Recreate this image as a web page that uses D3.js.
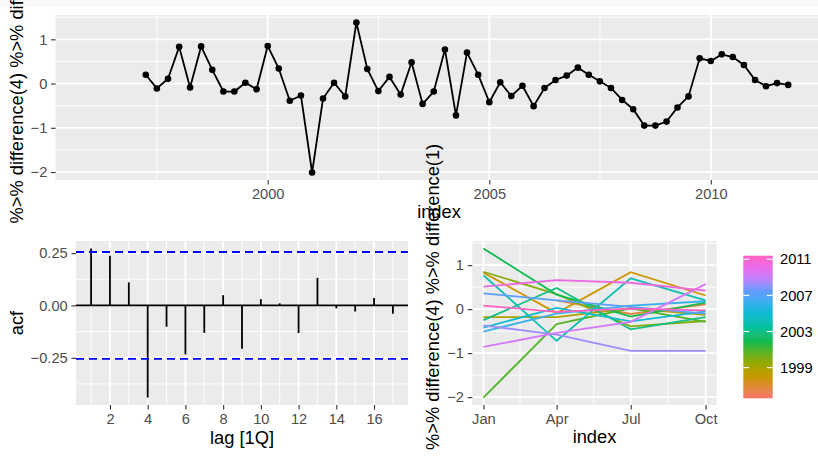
<!DOCTYPE html>
<html>
<head>
<meta charset="utf-8">
<script src="https://cdn.jsdelivr.net/npm/d3@7"></script>
<style>
  body { margin: 0; background: #fff; }
  text { font-family: "Liberation Sans", Arial, sans-serif; }
</style>
</head>
<body>
<svg width="818" height="456"></svg>
<script>
// ---------------- data ----------------
// quarterly series from 1996 Q1, first five quarters are NA after differencing
var firstYear = 1996;
var diffValues = [
  null, null, null, null,
  null, 0.20, -0.11, 0.11,
  0.83, -0.09, 0.84, 0.31,
  -0.18, -0.18, 0.02, -0.13,
  0.85, 0.34, -0.39, -0.27,
  -2.01, -0.34, 0.02, -0.29,
  1.38, 0.33, -0.17, 0.15,
  -0.25, 0.48, -0.46, -0.18,
  0.77, -0.72, 0.70, 0.20,
  -0.42, 0.03, -0.28, -0.05,
  -0.51, -0.10, 0.08, 0.18,
  0.36, 0.20, 0.05, -0.10,
  -0.37, -0.58, -0.95, -0.95,
  -0.86, -0.54, -0.29, 0.57,
  0.51, 0.66, 0.60, 0.42,
  0.08, -0.06, 0.01, -0.03
];
var yearTicks = [2000, 2005, 2010];
var valueTicks = [-2, -1, 0, 1];

var acfLags = [1, 2, 3, 4, 5, 6, 7, 8, 9, 10, 11, 12, 13, 14, 15, 16, 17];
var acfValues = [0.272, 0.237, 0.110, -0.440, -0.102, -0.234, -0.131, 0.049, -0.207,
                 0.030, 0.010, -0.132, 0.132, -0.014, -0.029, 0.035, -0.040];
var acfBound = 0.255;
var lagTicks = [2, 4, 6, 8, 10, 12, 14, 16];
var acfTicks = [-0.25, 0, 0.25];

var monthLabels = ["Jan", "Apr", "Jul", "Oct"];
var monthDays = [0, 90, 181, 273];
var legendYears = [1999, 2003, 2007, 2011];
var hueColors = ["#F8766D", "#D39200", "#93AA00", "#00BA38", "#00C19F",
                 "#00B9E3", "#619CFF", "#DB72FB", "#FF61C3"];

var yTitle = "%>% difference(4) %>% difference(1)";

// ---------------- helpers ----------------
var svg = d3.select("svg");
var tickCol = "#333333", labCol = "#4D4D4D";
var tickFont = 14.67, titleFont = 18.3;

function expand(ext, m) {
  var s = ext[1] - ext[0];
  return [ext[0] - s * m, ext[1] + s * m];
}
function minors(ticks, lo, hi) {
  var out = [], step = ticks[1] - ticks[0];
  var first = ticks[0] - step / 2;
  for (var v = first; v <= hi; v += step) if (v >= lo) out.push(v);
  return out.filter(v => ticks.indexOf(v) < 0);
}
function panel(x0, x1, y0, y1) {
  svg.append("rect").attr("x", x0).attr("y", y0)
     .attr("width", x1 - x0).attr("height", y1 - y0).attr("fill", "#EBEBEB");
}
function hGrid(ys, x0, x1, w) {
  ys.forEach(function(y) {
    svg.append("line").attr("x1", x0).attr("x2", x1).attr("y1", y).attr("y2", y)
       .attr("stroke", "#fff").attr("stroke-width", w);
  });
}
function vGrid(xs, y0, y1, w) {
  xs.forEach(function(x) {
    svg.append("line").attr("x1", x).attr("x2", x).attr("y1", y0).attr("y2", y1)
       .attr("stroke", "#fff").attr("stroke-width", w);
  });
}
function styleAxis(g) {
  g.select(".domain").remove();
  g.selectAll("line").attr("stroke", tickCol).attr("stroke-width", 1.1);
  g.selectAll("text").attr("fill", labCol).style("font-size", tickFont + "px")
   .style("font-family", "'Liberation Sans', Arial, sans-serif");
}

// faint strip at the very top
svg.append("rect").attr("x", 0).attr("y", 0).attr("width", 818).attr("height", 6.5)
   .attr("fill", "#F8F8F8");

// ---------------- top: time plot ----------------
var series = diffValues.map(function(v, i) {
  return { date: new Date(firstYear + Math.floor(i / 4), (i % 4) * 3, 1),
           year: firstYear + Math.floor(i / 4), q: i % 4, v: v };
});
var valid = series.filter(d => d.v !== null);

var tL = 55.6, tR = 823.1, tT = 15, tB = 180;
var dExt = d3.extent(series, d => +d.date);
var xTop = d3.scaleTime().domain(expand(dExt, 0.05).map(t => new Date(t))).range([tL, tR]);
var vDom = expand(d3.extent(valid, d => d.v), 0.05);
var yTop = d3.scaleLinear().domain(vDom).range([tB, tT]);

panel(tL, tR, tT, tB);
var yearDates = yearTicks.map(y => new Date(y, 0, 1));
var yearMinor = [1997.5, 2002.5, 2007.5, 2012.5].map(y => new Date(Math.floor(y), 6, 2));
hGrid(minors(valueTicks, vDom[0], vDom[1]).map(yTop), tL, tR, 0.9);
vGrid(yearMinor.map(xTop), tT, tB, 0.9);
hGrid(valueTicks.map(yTop), tL, tR, 1.8);
vGrid(yearDates.map(xTop), tT, tB, 1.8);

svg.append("path").datum(valid)
   .attr("fill", "none").attr("stroke", "#000").attr("stroke-width", 1.8)
   .attr("d", d3.line().x(d => xTop(d.date)).y(d => yTop(d.v)));
svg.selectAll("circle.pt").data(valid).enter().append("circle")
   .attr("class", "pt")
   .attr("cx", d => xTop(d.date)).attr("cy", d => yTop(d.v)).attr("r", 3.3)
   .attr("fill", "#000");

svg.append("g").attr("transform", "translate(0," + tB + ")")
   .call(d3.axisBottom(xTop).tickValues(yearDates).tickFormat(d3.timeFormat("%Y"))
         .tickSize(4.6).tickPadding(3.7))
   .call(styleAxis);
svg.append("g").attr("transform", "translate(" + tL + ",0)")
   .call(d3.axisLeft(yTop).tickValues(valueTicks).tickFormat(d3.format("d"))
         .tickSize(4.6).tickPadding(3.7))
   .call(styleAxis);

svg.append("text").attr("x", 439).attr("y", 218.3).attr("text-anchor", "middle")
   .style("font-size", titleFont + "px").attr("fill", "#000").text("index");
svg.append("text").attr("transform", "translate(23.3,223.5) rotate(-90)")
   .style("font-size", titleFont + "px").attr("fill", "#000").text(yTitle);

// ---------------- bottom left: ACF ----------------
var aL = 76, aR = 408, aT = 241, aB = 405;
var aExt = [Math.min(d3.min(acfValues), -acfBound, 0), Math.max(d3.max(acfValues), acfBound, 0)];
var aDom = expand(aExt, 0.05);
var xAcf = d3.scaleLinear().domain(expand(d3.extent(acfLags), 0.05)).range([aL, aR]);
var yAcf = d3.scaleLinear().domain(aDom).range([aB, aT]);

panel(aL, aR, aT, aB);
hGrid(minors(acfTicks, aDom[0], aDom[1]).map(yAcf), aL, aR, 0.9);
vGrid(minors(lagTicks, xAcf.domain()[0], xAcf.domain()[1]).map(xAcf), aT, aB, 0.9);
hGrid(acfTicks.map(yAcf), aL, aR, 1.8);
vGrid(lagTicks.map(xAcf), aT, aB, 1.8);

svg.selectAll("line.acf").data(acfLags).enter().append("line")
   .attr("class", "acf")
   .attr("x1", d => xAcf(d)).attr("x2", d => xAcf(d))
   .attr("y1", yAcf(0)).attr("y2", (d, i) => yAcf(acfValues[i]))
   .attr("stroke", "#000").attr("stroke-width", 1.8);
svg.append("line").attr("x1", aL).attr("x2", aR)
   .attr("y1", yAcf(0)).attr("y2", yAcf(0))
   .attr("stroke", "#000").attr("stroke-width", 1.8);
[acfBound, -acfBound].forEach(function(b) {
  svg.append("line").attr("x1", aL).attr("x2", aR)
     .attr("y1", yAcf(b)).attr("y2", yAcf(b))
     .attr("stroke", "blue").attr("stroke-width", 1.8)
     .attr("stroke-dasharray", "8,5");
});

svg.append("g").attr("transform", "translate(0," + aB + ")")
   .call(d3.axisBottom(xAcf).tickValues(lagTicks).tickFormat(d3.format("d"))
         .tickSize(4.6).tickPadding(3.7))
   .call(styleAxis);
svg.append("g").attr("transform", "translate(" + aL + ",0)")
   .call(d3.axisLeft(yAcf).tickValues(acfTicks).tickFormat(d3.format(".2f"))
         .tickSize(4.6).tickPadding(3.7))
   .call(styleAxis);

svg.append("text").attr("x", (aL + aR) / 2).attr("y", 443.5).attr("text-anchor", "middle")
   .style("font-size", titleFont + "px").attr("fill", "#000").text("lag [1Q]");
svg.append("text").attr("transform", "translate(23.3," + (aT + aB) / 2 + ") rotate(-90)")
   .attr("text-anchor", "middle")
   .style("font-size", titleFont + "px").attr("fill", "#000").text("acf");

// ---------------- bottom right: season plot ----------------
var sL = 472.3, sR = 716.7, sT = 241, sB = 405;
var xSea = d3.scaleLinear().domain(expand(d3.extent(monthDays), 0.05)).range([sL, sR]);
var ySea = d3.scaleLinear().domain(vDom).range([sB, sT]);
var yrExt = d3.extent(series, d => d.year);
var colour = d3.scaleLinear()
   .domain(hueColors.map((c, i) => yrExt[0] + (yrExt[1] - yrExt[0]) * i / (hueColors.length - 1)))
   .range(hueColors).interpolate(d3.interpolateLab);

panel(sL, sR, sT, sB);
var monthMinor = [-45, 45, 135.5, 227, 318].filter(v => v >= xSea.domain()[0] && v <= xSea.domain()[1]);
hGrid(minors(valueTicks, vDom[0], vDom[1]).map(ySea), sL, sR, 0.9);
vGrid(monthMinor.map(xSea), sT, sB, 0.9);
hGrid(valueTicks.map(ySea), sL, sR, 1.8);
vGrid(monthDays.map(xSea), sT, sB, 1.8);

var byYear = d3.groups(valid, d => d.year);
svg.selectAll("path.season").data(byYear).enter().append("path")
   .attr("class", "season")
   .attr("fill", "none").attr("stroke-width", 1.8)
   .attr("stroke", d => colour(d[0]))
   .attr("d", d => d3.line().x(p => xSea(monthDays[p.q])).y(p => ySea(p.v))(d[1]));

svg.append("g").attr("transform", "translate(0," + sB + ")")
   .call(d3.axisBottom(xSea).tickValues(monthDays).tickFormat((d, i) => monthLabels[i])
         .tickSize(4.6).tickPadding(3.7))
   .call(styleAxis);
svg.append("g").attr("transform", "translate(" + sL + ",0)")
   .call(d3.axisLeft(ySea).tickValues(valueTicks).tickFormat(d3.format("d"))
         .tickSize(4.6).tickPadding(3.7))
   .call(styleAxis);

svg.append("text").attr("x", (sL + sR) / 2).attr("y", 443.3).attr("text-anchor", "middle")
   .style("font-size", titleFont + "px").attr("fill", "#000").text("index");
svg.append("text").attr("transform", "translate(439,450) rotate(-90)")
   .style("font-size", titleFont + "px").attr("fill", "#000").text(yTitle);

// colour bar legend
var lgX = 743.3, lgW = 29.4, lgT = 255.7, lgB = 398.3;
var lgH = lgB - lgT;
var grad = svg.append("defs").append("linearGradient").attr("id", "yrgrad")
   .attr("x1", 0).attr("y1", 0).attr("x2", 0).attr("y2", 1);
d3.range(0, 1.0001, 0.05).forEach(function(o) {
  grad.append("stop").attr("offset", o)
      .attr("stop-color", colour(yrExt[1] - o * (yrExt[1] - yrExt[0])));
});
svg.append("rect").attr("x", lgX).attr("y", lgT).attr("width", lgW).attr("height", lgH)
   .attr("fill", "url(#yrgrad)");
var yLeg = d3.scaleLinear().domain([yrExt[1], yrExt[0]])
   .range([lgT + lgH / 40, lgB - lgH / 40]);
legendYears.forEach(function(yr) {
  var y = yLeg(yr);
  [[lgX, lgX + lgW / 5], [lgX + lgW * 4 / 5, lgX + lgW]].forEach(function(s) {
    svg.append("line").attr("x1", s[0]).attr("x2", s[1]).attr("y1", y).attr("y2", y)
       .attr("stroke", "#fff").attr("stroke-width", 1.1);
  });
  svg.append("text").attr("x", 780).attr("y", y).attr("dy", "0.35em")
     .style("font-size", tickFont + "px").attr("fill", "#000").text(yr);
});
</script>
</body>
</html>
